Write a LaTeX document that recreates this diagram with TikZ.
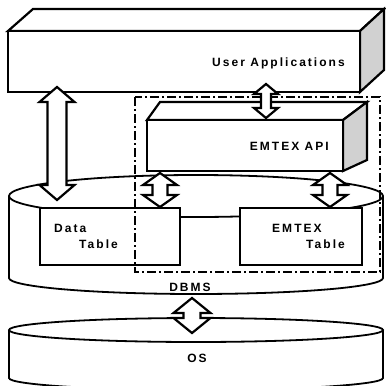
\documentclass[tikz,border=0pt]{standalone}
\usepackage{fontspec}
\newfontfamily\lblfont[LetterSpace=17]{Liberation Sans}
\usetikzlibrary{calc}

\tikzset{
  face/.style={draw,line width=2.2pt,fill=white,line join=miter},
  side/.style={draw,line width=2.2pt,fill=black!18,line join=miter},
  disk/.style={draw,line width=1.8pt,fill=white},
  blockarrow/.style={draw,line width=2.2pt,fill=white,line join=miter},
  frame/.style={line width=2pt,dash pattern=on 9pt off 3pt on 2pt off 3pt},
  lbl/.style={font=\lblfont\bfseries\fontsize{12}{16}\selectfont,inner sep=0pt},
}

% two-headed block arrow: top tip, bottom tip, head half width, head length, shaft half width
\newcommand\bothways[5]{%
  \draw[blockarrow] (#1) -- ($(#1)+(#3,#4)$) -- ($(#1)+(#5,#4)$)
    -- ($(#2)+(#5,-#4)$) -- ($(#2)+(#3,-#4)$) -- (#2)
    -- ($(#2)+(-#3,-#4)$) -- ($(#2)+(-#5,-#4)$)
    -- ($(#1)+(-#5,#4)$) -- ($(#1)+(-#3,#4)$) -- cycle;}

\begin{document}
\begin{tikzpicture}[x=1pt,y=-1pt]
  \useasboundingbox (0,0) rectangle (386,386);

  % OS layer
  \draw[disk] (9,330) -- (9,378) arc[start angle=180,end angle=0,x radius=187,y radius=12] -- (383,330);
  \draw[disk] (196,330) ellipse[x radius=187,y radius=12];
  \node[lbl,anchor=base] (os) at (197,362) {OS};

  % DBMS layer
  \draw[disk] (9,196) -- (9,278) arc[start angle=180,end angle=0,x radius=187,y radius=16] -- (383,196);
  \draw[disk] (196,196) ellipse[x radius=187,y radius=21];
  \node[lbl,anchor=base] (dbms) at (190,291) {DBMS};

  % tables inside the DBMS
  \draw[face] (40,208) rectangle (180,265);
  \draw[face] (240,208) rectangle (362,265);
  \node[lbl,anchor=base west] (data) at (54,232) {Data};
  \node[lbl,anchor=base west] (datatab) at (79,248) {Table};
  \node[lbl,anchor=base west] (emtex) at (272,232) {EMTEX};
  \node[lbl,anchor=base west] (emtextab) at (306,248) {Table};

  % user applications box
  \draw[face] (8,31) -- (33,9) -- (384,9) -- (360,31) -- cycle;
  \draw[side] (360,31) -- (384,9) -- (384,70) -- (360,92) -- cycle;
  \draw[face] (8,31) rectangle (360,92);
  \node[lbl,anchor=base east] (apps) at (345,66) {User Applications};

  % API box
  \draw[face] (147,120) -- (160,102) -- (367,102) -- (343,120) -- cycle;
  \draw[side] (343,120) -- (367,102) -- (367,160) -- (343,171) -- cycle;
  \draw[face] (147,120) rectangle (343,171);
  \node[lbl,anchor=base east] (api) at (329,150) {EMTEX API};

  % extension boundary
  \draw[frame] (135,97) rectangle (380,272);

  % arrow ends
  \coordinate (apps-db) at (57,87);
  \coordinate (db-apps) at (57,200);
  \coordinate (apps-api) at (266,84);
  \coordinate (api-apps) at (266,118);
  \coordinate (api-data) at (160,173);
  \coordinate (data-api) at (160,207);
  \coordinate (api-emtex) at (330,173);
  \coordinate (emtex-api) at (330,207);
  \coordinate (db-os) at (192,298);
  \coordinate (os-db) at (192,333);

  \bothways{apps-db}{db-apps}{17.5}{15}{9.5}
  \bothways{apps-api}{api-apps}{12}{10}{5}
  \bothways{api-data}{data-api}{17}{12}{7.5}
  \bothways{api-emtex}{emtex-api}{17}{12}{7.5}
  \bothways{db-os}{os-db}{18.5}{15}{8.5}
\end{tikzpicture}
\end{document}
